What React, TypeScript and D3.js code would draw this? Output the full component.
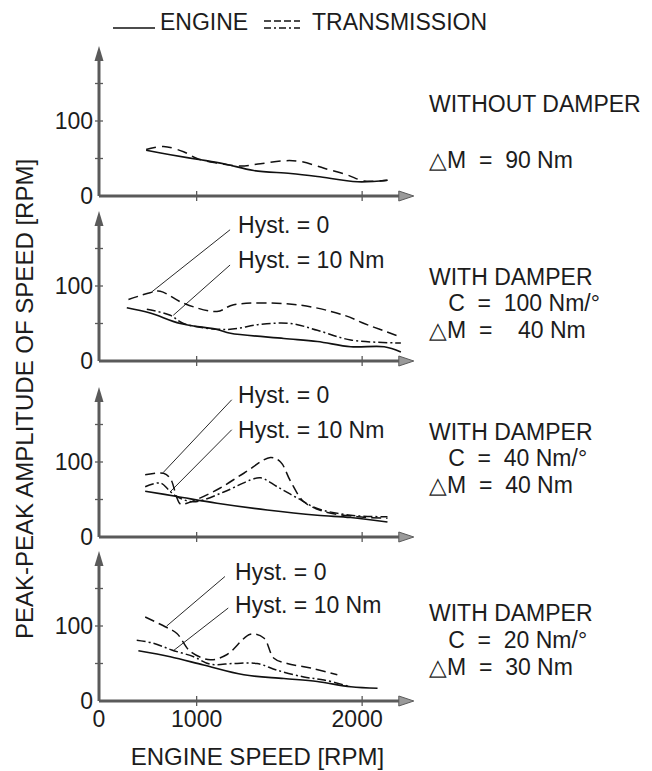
import React from 'react';
import * as d3 from 'd3';

type Pt = [number, number];

// ---------- DATA ----------
const xTickValues = [1000, 2000];
const xTickLabels = ['1000', '2000'];
const xOriginLabel = '0';
const yTickLabelValues = [0, 100];
const yTickMarks = [50, 100, 150];

const legendLabels = ['ENGINE', 'TRANSMISSION'];
const xAxisTitle = 'ENGINE SPEED [RPM]';
const yAxisTitle = 'PEAK-PEAK AMPLITUDE OF SPEED [RPM]';
const hystLabels = ['Hyst. = 0', 'Hyst. = 10 Nm'];

const panelNotes: string[][] = [
  ['WITHOUT DAMPER', '\u25B3M  =  90 Nm'],
  ['WITH DAMPER', '   C  =  100 Nm/\u00B0', '\u25B3M  =    40 Nm'],
  ['WITH DAMPER', '   C  =  40 Nm/\u00B0', '\u25B3M  =  40 Nm'],
  ['WITH DAMPER', '   C  =  20 Nm/\u00B0', '\u25B3M  =  30 Nm'],
];

// panel 1 : without damper
const p1Engine: Pt[] = [[695, 61], [841, 55], [1002, 49], [1164, 43], [1345, 34], [1568, 30], [1729, 26], [1972, 19], [2153, 21]];
const p1Trans: Pt[] = [[695, 62], [800, 66], [921, 59], [1002, 50], [1123, 44], [1265, 40], [1386, 43], [1527, 47], [1628, 46], [1770, 37], [1911, 28], [2012, 20], [2153, 21]];

// panel 2 : C = 100
const p2Engine: Pt[] = [[578, 71], [719, 64], [901, 50], [1123, 42], [1204, 37], [1527, 30], [1729, 26], [1931, 19], [2133, 19], [2234, 12]];
const p2Hyst0: Pt[] = [[588, 82], [719, 91], [780, 93], [921, 77], [1123, 66], [1224, 75], [1608, 75], [1891, 61], [2012, 50], [2234, 32]];
const p2Hyst10: Pt[] = [[699, 69], [841, 61], [921, 50], [1184, 42], [1386, 49], [1568, 50], [1729, 41], [1931, 28], [2234, 24]];

// panel 3 : C = 40
const p3Engine: Pt[] = [[689, 61], [881, 54], [1123, 45], [1426, 36], [1729, 29], [1931, 26], [2153, 20]];
const p3Hyst0: Pt[] = [[689, 83], [800, 85], [841, 78], [881, 52], [901, 44], [941, 45], [1123, 63], [1285, 85], [1446, 106], [1507, 100], [1568, 74], [1648, 47], [1770, 34], [1972, 27], [2153, 25]];
const p3Hyst10: Pt[] = [[689, 67], [780, 72], [830, 63], [871, 55], [981, 47], [1164, 60], [1325, 76], [1386, 79], [1487, 67], [1608, 52], [1729, 38], [1931, 29], [2153, 27]];

// panel 4 : C = 20
const p4Engine: Pt[] = [[648, 67], [841, 59], [1042, 48], [1285, 35], [1527, 30], [1729, 26], [1931, 19], [2093, 17]];
const p4Hyst0: Pt[] = [[689, 112], [810, 99], [881, 90], [962, 66], [1083, 55], [1184, 62], [1325, 89], [1406, 84], [1467, 57], [1547, 50], [1689, 44], [1850, 35]];
const p4Hyst10: Pt[] = [[638, 81], [739, 77], [850, 68], [982, 59], [1083, 49], [1224, 50], [1365, 50], [1487, 41], [1648, 32], [1770, 28], [1931, 19]];

// annotation anchors in data units: [textRpm, textVal, startRpm, startVal, targetRpm, targetVal]
const p2Notes: number[][] = [[1250, 171, 1202, 175, 728, 92], [1250, 124, 1202, 128, 859, 61]];
const p3Notes: number[][] = [[1250, 179, 1212, 183, 798, 86], [1250, 132, 1212, 143, 839, 60]];
const p4Notes: number[][] = [[1232, 161, 1171, 166, 819, 100], [1232, 117, 1191, 124, 859, 67]];

// ---------- LAYOUT ----------
const W = 652, H = 771;
const AXIS_X0 = 99;
const PANEL_Y0 = [196, 361, 537, 701];
const PANEL_H = 150;
const NOTE_BASE = [[112, 168], [285, 311, 338], [440, 466, 493], [621, 648, 675]];
const NOTE_X = 429;
const FONT = "'Liberation Sans', Arial, Helvetica, sans-serif";
const INK = '#1c1c1c';
const AXIS_COLOR = '#5a5a5a';

const x = d3.scaleLinear().domain([410, 2300]).range([AXIS_X0, AXIS_X0 + 1890 * 0.1655]);

const styles = {
  engine: { dash: undefined as string | undefined, w: 1.7 },
  trans: { dash: '10 6', w: 1.5 },
  hyst0: { dash: '10 5', w: 1.5 },
  hyst10: { dash: '9 3 2 3', w: 1.5 },
};

function Panel({ index, series, notes }: { index: number; series: { data: Pt[]; style: { dash?: string; w: number } }[]; notes?: number[][] }) {
  const y0 = PANEL_Y0[index];
  const y = d3.scaleLinear().domain([0, 200]).range([y0, y0 - PANEL_H]);
  const line = d3.line<Pt>().x(d => x(d[0])).y(d => y(d[1])).curve(d3.curveCatmullRom.alpha(0.5));
  const xEnd = x.range()[1];
  const yTop = y(200);
  return (
    <g>
      {/* axes */}
      <line x1={AXIS_X0} y1={y0} x2={xEnd - 4} y2={y0} stroke={AXIS_COLOR} strokeWidth={3} />
      <line x1={AXIS_X0} y1={y0} x2={AXIS_X0} y2={yTop + 8} stroke={AXIS_COLOR} strokeWidth={3} />
      <path d={`M${AXIS_X0},${yTop} L${AXIS_X0 - 4.5},${yTop + 15} L${AXIS_X0 + 4.5},${yTop + 15} Z`} fill={AXIS_COLOR} />
      <path d={`M${xEnd + 2},${y0} L${xEnd - 13},${y0 - 5} L${xEnd - 13},${y0 + 5} Z`} fill="#9a9a9a" stroke={AXIS_COLOR} strokeWidth={1} />
      {yTickMarks.map(v => (
        <line key={v} x1={AXIS_X0 - 4} x2={AXIS_X0 + 4} y1={y(v)} y2={y(v)} stroke={AXIS_COLOR} strokeWidth={1.3} />
      ))}
      {xTickValues.map(v => (
        <line key={v} x1={x(v)} x2={x(v)} y1={y0 - 5} y2={y0 + 5} stroke={AXIS_COLOR} strokeWidth={1.3} />
      ))}
      {yTickLabelValues.map(v => (
        <text key={v} x={AXIS_X0 - 6} y={y(v) + 8} textAnchor="end" fontSize={23} fontFamily={FONT} fill={INK}>{v}</text>
      ))}
      {/* curves */}
      {series.map((s, i) => (
        <path key={i} d={line(s.data) || ''} fill="none" stroke="#111" strokeWidth={s.style.w} strokeDasharray={s.style.dash} strokeLinecap="butt" />
      ))}
      {/* hysteresis annotations */}
      {notes && notes.map((n, i) => (
        <g key={i}>
          <line x1={x(n[2])} y1={y(n[3])} x2={x(n[4])} y2={y(n[5])} stroke="#111" strokeWidth={0.9} />
          <text x={x(n[0])} y={y(n[1])} fontSize={23} fontFamily={FONT} fill={INK}>{hystLabels[i]}</text>
        </g>
      ))}
      {/* right notes */}
      {panelNotes[index].map((t, i) => (
        <text key={i} x={NOTE_X} y={NOTE_BASE[index][i]} fontSize={23} fontFamily={FONT} fill={INK} style={{ whiteSpace: 'pre' }}>{t}</text>
      ))}
    </g>
  );
}

export default function App() {
  const bottomY0 = PANEL_Y0[3];
  return (
    <svg width={W} height={H} viewBox={`0 0 ${W} ${H}`} style={{ position: 'absolute', left: 0, top: 0, background: '#fff' }}>
      <rect width={W} height={H} fill="#fff" />
      {/* legend */}
      <g>
        <line x1={113} x2={155} y1={28} y2={28} stroke="#111" strokeWidth={1.4} />
        <text x={160} y={30} fontSize={23} fontFamily={FONT} fill={INK}>{legendLabels[0]}</text>
        <line x1={264} x2={300} y1={21} y2={21} stroke="#111" strokeWidth={1.3} strokeDasharray="7 3" />
        <line x1={264} x2={300} y1={28} y2={28} stroke="#111" strokeWidth={1.3} strokeDasharray="7 3 2 3" />
        <text x={312} y={30} fontSize={23} fontFamily={FONT} fill={INK}>{legendLabels[1]}</text>
      </g>
      <Panel index={0} series={[{ data: p1Engine, style: styles.engine }, { data: p1Trans, style: styles.trans }]} />
      <Panel index={1} series={[{ data: p2Engine, style: styles.engine }, { data: p2Hyst0, style: styles.hyst0 }, { data: p2Hyst10, style: styles.hyst10 }]} notes={p2Notes} />
      <Panel index={2} series={[{ data: p3Engine, style: styles.engine }, { data: p3Hyst0, style: styles.hyst0 }, { data: p3Hyst10, style: styles.hyst10 }]} notes={p3Notes} />
      <Panel index={3} series={[{ data: p4Engine, style: styles.engine }, { data: p4Hyst0, style: styles.hyst0 }, { data: p4Hyst10, style: styles.hyst10 }]} notes={p4Notes} />
      {/* x tick labels */}
      <text x={x.range()[0]} y={bottomY0 + 26} textAnchor="middle" fontSize={23} fontFamily={FONT} fill={INK}>{xOriginLabel}</text>
      {xTickValues.map((v, i) => (
        <text key={v} x={x(v) - (i === 1 ? 5 : 0)} y={bottomY0 + 26} textAnchor="middle" fontSize={23} fontFamily={FONT} fill={INK}>{xTickLabels[i]}</text>
      ))}
      <text x={(x.range()[0] + x.range()[1]) / 2 + 2} y={765} textAnchor="middle" fontSize={24} fontFamily={FONT} fill={INK}>{xAxisTitle}</text>
      <text transform="translate(33,399) rotate(-90)" textAnchor="middle" fontSize={24} fontFamily={FONT} fill={INK}>{yAxisTitle}</text>
    </svg>
  );
}
